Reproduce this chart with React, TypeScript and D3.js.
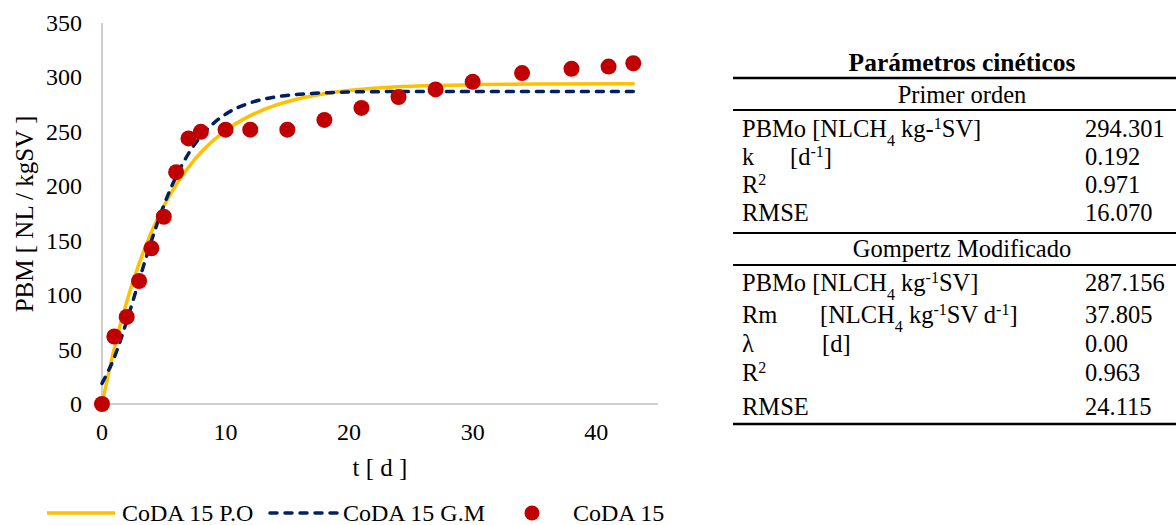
import React from "react";
import * as d3 from "d3";

// Observed data (CoDA 15)
const obsT = [0, 1, 2, 3, 4, 5, 6, 7, 8, 10, 12, 15, 18, 21, 24, 27, 30, 34, 38, 41, 43];
const obsY = [0, 62, 80, 113, 143, 172, 213, 244, 250, 252, 252, 252, 261, 272, 282, 289, 296, 304, 308, 310, 313];

// Fitted curves
const curveT = [0, 1, 2, 3, 4, 5, 6, 7, 8, 9, 10, 12, 14, 16, 18, 20, 23, 26, 30, 35, 43];
const poY = [0, 51.4, 93.9, 128.9, 157.8, 181.6, 201.3, 217.5, 231.0, 242.0, 251.2, 264.9, 274.3, 280.7, 285.0, 288.0, 290.7, 292.3, 293.4, 294.0, 294.2];
const gmY = [18.9, 42.9, 76.1, 113.4, 150.0, 182.3, 209.0, 230.0, 245.9, 257.6, 266.2, 276.7, 282.0, 284.6, 285.9, 286.6, 287.0, 287.1, 287.15, 287.16, 287.16];

const xTicks = [0, 10, 20, 30, 40];
const yTicks = [0, 50, 100, 150, 200, 250, 300, 350];

const seriesNames = ["CoDA 15 P.O", "CoDA 15 G.M", "CoDA 15"];

const FONT = "Liberation Serif, DejaVu Serif, serif";

export default function App() {
  const x = d3.scaleLinear().domain([0, 45]).range([102, 658]);
  const y = d3.scaleLinear().domain([0, 350]).range([404, 23]);

  const line = d3
    .line<number>()
    .x((_, i) => x(curveT[i]))
    .curve(d3.curveMonotoneX);
  const poPath = line.y((v) => y(v))(poY) || "";
  const gmPath = line.y((v) => y(v))(gmY) || "";

  const sup = (t: string) => (
    <tspan baselineShift="super" fontSize={16}>{t}</tspan>
  );
  const sub = (t: string) => (
    <tspan baselineShift="sub" fontSize={16}>{t}</tspan>
  );

  const tx0 = 742;
  const tx1 = 1085;
  const fs = 24;
  const tfs = 24.5;

  return (
    <svg width={1176} height={525} style={{ position: "absolute", left: 0, top: 0, fontFamily: FONT }}>
      <rect width={1176} height={525} fill="#fff" />
      {/* axes */}
      <line x1={x(0)} x2={x(0)} y1={y(350)} y2={y(0)} stroke="#bfbfbf" strokeWidth={1.5} />
      <line x1={x(0)} x2={x(45)} y1={y(0)} y2={y(0)} stroke="#bfbfbf" strokeWidth={1.5} />
      {yTicks.map((t) => (
        <text key={t} x={82} y={y(t) + 8} textAnchor="end" fontSize={fs} fill="#000">
          {t}
        </text>
      ))}
      {xTicks.map((t) => (
        <text key={t} x={x(t)} y={440} textAnchor="middle" fontSize={fs} fill="#000">
          {t}
        </text>
      ))}
      <text x={380} y={476} textAnchor="middle" fontSize={25}>t [ d ]</text>
      <text transform="translate(33,214) rotate(-90)" textAnchor="middle" fontSize={25}>
        PBM [ NL / kgSV ]
      </text>

      {/* curves */}
      <path d={poPath} fill="none" stroke="#FFC000" strokeWidth={3.5} strokeLinecap="round" />
      <path d={gmPath} fill="none" stroke="#002060" strokeWidth={3.5} strokeDasharray="7 8" strokeLinecap="round" />
      {obsT.map((t, i) => (
        <circle key={i} cx={x(t)} cy={y(obsY[i])} r={8} fill="#C00000" />
      ))}

      {/* legend */}
      <line x1={47} x2={115} y1={513} y2={513} stroke="#FFC000" strokeWidth={3.5} />
      <text x={122} y={521} fontSize={fs}>{seriesNames[0]}</text>
      <line x1={270} x2={338} y1={513} y2={513} stroke="#002060" strokeWidth={3.5} strokeDasharray="7 8" strokeLinecap="round" />
      <text x={343} y={521} fontSize={fs}>{seriesNames[1]}</text>
      <circle cx={532} cy={513} r={7.5} fill="#C00000" />
      <text x={573} y={521} fontSize={fs}>{seriesNames[2]}</text>

      {/* table */}
      <text x={962} y={71} textAnchor="middle" fontSize={25.5} fontWeight="bold">Parámetros cinéticos</text>
      <line x1={733} x2={1176} y1={78} y2={78} stroke="#000" strokeWidth={2.5} />
      <text x={962} y={103} textAnchor="middle" fontSize={tfs}>Primer orden</text>
      <line x1={733} x2={1176} y1={110} y2={110} stroke="#000" strokeWidth={2} />
      <text x={tx0} y={137} fontSize={tfs}>PBMo [NLCH{sub("4")} kg-{sup("1")}SV]</text>
      <text x={tx1} y={137} fontSize={tfs}>294.301</text>
      <text x={tx0} y={165} fontSize={tfs}>k</text>
      <text x={790} y={165} fontSize={tfs}>[d{sup("-1")}]</text>
      <text x={tx1} y={165} fontSize={tfs}>0.192</text>
      <text x={tx0} y={193} fontSize={tfs}>R{sup("2")}</text>
      <text x={tx1} y={193} fontSize={tfs}>0.971</text>
      <text x={tx0} y={221} fontSize={tfs}>RMSE</text>
      <text x={tx1} y={221} fontSize={tfs}>16.070</text>
      <line x1={733} x2={1176} y1={233} y2={233} stroke="#000" strokeWidth={2} />
      <text x={962} y={257} textAnchor="middle" fontSize={tfs}>Gompertz Modificado</text>
      <line x1={733} x2={1176} y1={265} y2={265} stroke="#000" strokeWidth={2} />
      <text x={tx0} y={291} fontSize={tfs}>PBMo [NLCH{sub("4")} kg{sup("-1")}SV]</text>
      <text x={tx1} y={291} fontSize={tfs}>287.156</text>
      <text x={tx0} y={323} fontSize={tfs}>Rm</text>
      <text x={820} y={323} fontSize={tfs}>[NLCH{sub("4")} kg{sup("-1")}SV d{sup("-1")}]</text>
      <text x={tx1} y={323} fontSize={tfs}>37.805</text>
      <text x={tx0} y={352} fontSize={tfs}>λ</text>
      <text x={822} y={352} fontSize={tfs}>[d]</text>
      <text x={tx1} y={352} fontSize={tfs}>0.00</text>
      <text x={tx0} y={381} fontSize={tfs}>R{sup("2")}</text>
      <text x={tx1} y={381} fontSize={tfs}>0.963</text>
      <text x={tx0} y={415} fontSize={tfs}>RMSE</text>
      <text x={tx1} y={415} fontSize={tfs}>24.115</text>
      <line x1={733} x2={1176} y1={424} y2={424} stroke="#000" strokeWidth={2.5} />
    </svg>
  );
}
